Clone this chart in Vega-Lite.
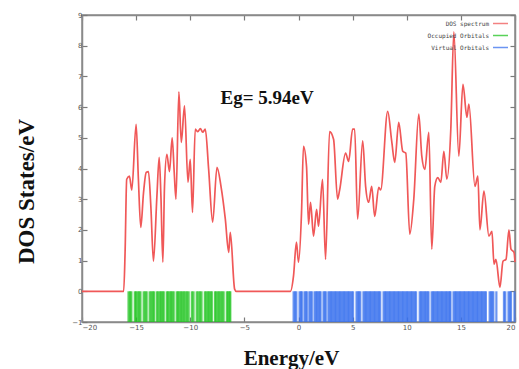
{
  "$schema": "https://vega.github.io/schema/vega-lite/v6.json",
  "width": 433,
  "height": 307,
  "autosize": {"type": "none"},
  "padding": {"left": 82, "top": 15, "right": 4, "bottom": 47},
  "background": "white",
  "config": {
    "view": {"stroke": "#8a8a8a", "strokeWidth": 1.5},
    "axis": {"grid": false, "domainColor": "#8a8a8a", "domainWidth": 1.5, "tickColor": "#7a7a7a", "tickWidth": 1.2, "tickSize": -5, "labelFontSize": 7, "labelColor": "#555", "labelFont": "DejaVu Sans"}
  },
  "datasets": {
    "dos": [
      {"series": "DOS spectrum", "E": -20, "dos": 0},
      {"series": "DOS spectrum", "E": -16.15, "dos": 0},
      {"series": "DOS spectrum", "E": -16.02, "dos": 1.27},
      {"series": "DOS spectrum", "E": -15.87, "dos": 3.65},
      {"series": "DOS spectrum", "E": -15.62, "dos": 3.75},
      {"series": "DOS spectrum", "E": -15.4, "dos": 3.3},
      {"series": "DOS spectrum", "E": -15.0, "dos": 5.44},
      {"series": "DOS spectrum", "E": -14.79, "dos": 3.65},
      {"series": "DOS spectrum", "E": -14.57, "dos": 2.08},
      {"series": "DOS spectrum", "E": -14.32, "dos": 3.2},
      {"series": "DOS spectrum", "E": -14.07, "dos": 3.87},
      {"series": "DOS spectrum", "E": -13.86, "dos": 3.9},
      {"series": "DOS spectrum", "E": -13.64, "dos": 2.77},
      {"series": "DOS spectrum", "E": -13.4, "dos": 0.98},
      {"series": "DOS spectrum", "E": -13.08, "dos": 3.1},
      {"series": "DOS spectrum", "E": -12.87, "dos": 4.36},
      {"series": "DOS spectrum", "E": -12.71, "dos": 3.1},
      {"series": "DOS spectrum", "E": -12.53, "dos": 0.95},
      {"series": "DOS spectrum", "E": -12.38, "dos": 3.4},
      {"series": "DOS spectrum", "E": -12.16, "dos": 4.46},
      {"series": "DOS spectrum", "E": -11.92, "dos": 3.9},
      {"series": "DOS spectrum", "E": -11.67, "dos": 5.0},
      {"series": "DOS spectrum", "E": -11.48, "dos": 3.87},
      {"series": "DOS spectrum", "E": -11.32, "dos": 3.0},
      {"series": "DOS spectrum", "E": -11.05, "dos": 6.5},
      {"series": "DOS spectrum", "E": -10.83, "dos": 4.85},
      {"series": "DOS spectrum", "E": -10.53, "dos": 6.04},
      {"series": "DOS spectrum", "E": -10.21, "dos": 3.55},
      {"series": "DOS spectrum", "E": -10.0, "dos": 4.3},
      {"series": "DOS spectrum", "E": -9.79, "dos": 2.57},
      {"series": "DOS spectrum", "E": -9.54, "dos": 5.28},
      {"series": "DOS spectrum", "E": -9.3, "dos": 5.2},
      {"series": "DOS spectrum", "E": -9.07, "dos": 5.3},
      {"series": "DOS spectrum", "E": -8.85, "dos": 5.18},
      {"series": "DOS spectrum", "E": -8.61, "dos": 5.28},
      {"series": "DOS spectrum", "E": -8.3, "dos": 3.97},
      {"series": "DOS spectrum", "E": -7.93, "dos": 2.25},
      {"series": "DOS spectrum", "E": -7.53, "dos": 4.04},
      {"series": "DOS spectrum", "E": -7.16, "dos": 3.42},
      {"series": "DOS spectrum", "E": -6.76, "dos": 2.35},
      {"series": "DOS spectrum", "E": -6.45, "dos": 1.27},
      {"series": "DOS spectrum", "E": -6.3, "dos": 1.92},
      {"series": "DOS spectrum", "E": -5.9, "dos": 0.07},
      {"series": "DOS spectrum", "E": -5.75, "dos": 0},
      {"series": "DOS spectrum", "E": -0.74, "dos": 0},
      {"series": "DOS spectrum", "E": -0.46, "dos": 0.5},
      {"series": "DOS spectrum", "E": -0.19, "dos": 1.6},
      {"series": "DOS spectrum", "E": 0.0, "dos": 0.95},
      {"series": "DOS spectrum", "E": 0.28, "dos": 2.57},
      {"series": "DOS spectrum", "E": 0.46, "dos": 4.72},
      {"series": "DOS spectrum", "E": 0.74, "dos": 4.07},
      {"series": "DOS spectrum", "E": 0.93, "dos": 2.18},
      {"series": "DOS spectrum", "E": 1.11, "dos": 2.9},
      {"series": "DOS spectrum", "E": 1.39, "dos": 1.8},
      {"series": "DOS spectrum", "E": 1.67, "dos": 2.67},
      {"series": "DOS spectrum", "E": 1.85, "dos": 2.12},
      {"series": "DOS spectrum", "E": 2.22, "dos": 3.65},
      {"series": "DOS spectrum", "E": 2.5, "dos": 1.04},
      {"series": "DOS spectrum", "E": 2.87, "dos": 5.2},
      {"series": "DOS spectrum", "E": 3.24, "dos": 4.95},
      {"series": "DOS spectrum", "E": 3.61, "dos": 3.0},
      {"series": "DOS spectrum", "E": 3.8, "dos": 3.3},
      {"series": "DOS spectrum", "E": 4.35, "dos": 4.5},
      {"series": "DOS spectrum", "E": 4.63, "dos": 4.23},
      {"series": "DOS spectrum", "E": 5.0, "dos": 5.28},
      {"series": "DOS spectrum", "E": 5.19, "dos": 5.28},
      {"series": "DOS spectrum", "E": 5.46, "dos": 2.35},
      {"series": "DOS spectrum", "E": 5.93, "dos": 4.9},
      {"series": "DOS spectrum", "E": 6.2, "dos": 3.42},
      {"series": "DOS spectrum", "E": 6.48, "dos": 2.9},
      {"series": "DOS spectrum", "E": 6.76, "dos": 3.42},
      {"series": "DOS spectrum", "E": 7.04, "dos": 2.44},
      {"series": "DOS spectrum", "E": 7.41, "dos": 3.39},
      {"series": "DOS spectrum", "E": 7.59, "dos": 3.3},
      {"series": "DOS spectrum", "E": 8.24, "dos": 5.86},
      {"series": "DOS spectrum", "E": 8.61, "dos": 4.89},
      {"series": "DOS spectrum", "E": 8.89, "dos": 4.2},
      {"series": "DOS spectrum", "E": 9.26, "dos": 5.5},
      {"series": "DOS spectrum", "E": 9.63, "dos": 4.56},
      {"series": "DOS spectrum", "E": 9.91, "dos": 4.5},
      {"series": "DOS spectrum", "E": 10.28, "dos": 1.86},
      {"series": "DOS spectrum", "E": 10.65, "dos": 3.0},
      {"series": "DOS spectrum", "E": 11.11, "dos": 5.77},
      {"series": "DOS spectrum", "E": 11.39, "dos": 4.4},
      {"series": "DOS spectrum", "E": 11.67, "dos": 3.97},
      {"series": "DOS spectrum", "E": 12.04, "dos": 5.18},
      {"series": "DOS spectrum", "E": 12.31, "dos": 1.37},
      {"series": "DOS spectrum", "E": 12.59, "dos": 3.42},
      {"series": "DOS spectrum", "E": 12.87, "dos": 3.7},
      {"series": "DOS spectrum", "E": 13.15, "dos": 3.55},
      {"series": "DOS spectrum", "E": 13.43, "dos": 4.56},
      {"series": "DOS spectrum", "E": 13.7, "dos": 3.65},
      {"series": "DOS spectrum", "E": 14.07, "dos": 5.28},
      {"series": "DOS spectrum", "E": 14.35, "dos": 8.45},
      {"series": "DOS spectrum", "E": 14.81, "dos": 4.4},
      {"series": "DOS spectrum", "E": 15.19, "dos": 6.74},
      {"series": "DOS spectrum", "E": 15.56, "dos": 5.67},
      {"series": "DOS spectrum", "E": 15.74, "dos": 6.1},
      {"series": "DOS spectrum", "E": 16.3, "dos": 3.42},
      {"series": "DOS spectrum", "E": 16.57, "dos": 3.75},
      {"series": "DOS spectrum", "E": 16.76, "dos": 2.0},
      {"series": "DOS spectrum", "E": 17.13, "dos": 3.26},
      {"series": "DOS spectrum", "E": 17.59, "dos": 1.8},
      {"series": "DOS spectrum", "E": 17.87, "dos": 1.95},
      {"series": "DOS spectrum", "E": 18.06, "dos": 0.88},
      {"series": "DOS spectrum", "E": 18.24, "dos": 1.04},
      {"series": "DOS spectrum", "E": 18.61, "dos": 0.13},
      {"series": "DOS spectrum", "E": 18.89, "dos": 0.98},
      {"series": "DOS spectrum", "E": 19.17, "dos": 1.04},
      {"series": "DOS spectrum", "E": 19.44, "dos": 2.0},
      {"series": "DOS spectrum", "E": 19.63, "dos": 1.37},
      {"series": "DOS spectrum", "E": 19.91, "dos": 1.27},
      {"series": "DOS spectrum", "E": 20.0, "dos": 0.95}
    ],
    "orb": [
      {"series": "Occupied Orbitals", "E": -15.7}, {"series": "Occupied Orbitals", "E": -15.56}, {"series": "Occupied Orbitals", "E": -15.44},
      {"series": "Occupied Orbitals", "E": -15.12}, {"series": "Occupied Orbitals", "E": -15.0}, {"series": "Occupied Orbitals", "E": -14.86}, {"series": "Occupied Orbitals", "E": -14.72}, {"series": "Occupied Orbitals", "E": -14.6},
      {"series": "Occupied Orbitals", "E": -14.3}, {"series": "Occupied Orbitals", "E": -14.15}, {"series": "Occupied Orbitals", "E": -14.03},
      {"series": "Occupied Orbitals", "E": -13.75}, {"series": "Occupied Orbitals", "E": -13.6}, {"series": "Occupied Orbitals", "E": -13.47}, {"series": "Occupied Orbitals", "E": -13.36},
      {"series": "Occupied Orbitals", "E": -13.1}, {"series": "Occupied Orbitals", "E": -12.96}, {"series": "Occupied Orbitals", "E": -12.81}, {"series": "Occupied Orbitals", "E": -12.68}, {"series": "Occupied Orbitals", "E": -12.56}, {"series": "Occupied Orbitals", "E": -12.45},
      {"series": "Occupied Orbitals", "E": -12.17}, {"series": "Occupied Orbitals", "E": -12.05}, {"series": "Occupied Orbitals", "E": -11.91}, {"series": "Occupied Orbitals", "E": -11.78}, {"series": "Occupied Orbitals", "E": -11.65}, {"series": "Occupied Orbitals", "E": -11.53},
      {"series": "Occupied Orbitals", "E": -11.25}, {"series": "Occupied Orbitals", "E": -11.12}, {"series": "Occupied Orbitals", "E": -11.0}, {"series": "Occupied Orbitals", "E": -10.86}, {"series": "Occupied Orbitals", "E": -10.72}, {"series": "Occupied Orbitals", "E": -10.6}, {"series": "Occupied Orbitals", "E": -10.45}, {"series": "Occupied Orbitals", "E": -10.3}, {"series": "Occupied Orbitals", "E": -10.15},
      {"series": "Occupied Orbitals", "E": -9.85}, {"series": "Occupied Orbitals", "E": -9.7},
      {"series": "Occupied Orbitals", "E": -9.4}, {"series": "Occupied Orbitals", "E": -9.25}, {"series": "Occupied Orbitals", "E": -9.1}, {"series": "Occupied Orbitals", "E": -8.96},
      {"series": "Occupied Orbitals", "E": -8.65}, {"series": "Occupied Orbitals", "E": -8.51}, {"series": "Occupied Orbitals", "E": -8.38}, {"series": "Occupied Orbitals", "E": -8.25}, {"series": "Occupied Orbitals", "E": -8.12}, {"series": "Occupied Orbitals", "E": -8.01},
      {"series": "Occupied Orbitals", "E": -7.72}, {"series": "Occupied Orbitals", "E": -7.6}, {"series": "Occupied Orbitals", "E": -7.46}, {"series": "Occupied Orbitals", "E": -7.32}, {"series": "Occupied Orbitals", "E": -7.2}, {"series": "Occupied Orbitals", "E": -7.05}, {"series": "Occupied Orbitals", "E": -6.92},
      {"series": "Occupied Orbitals", "E": -6.62}, {"series": "Occupied Orbitals", "E": -6.5}, {"series": "Occupied Orbitals", "E": -6.38}, {"series": "Occupied Orbitals", "E": -6.3},
      {"series": "Virtual Orbitals", "E": -0.45}, {"series": "Virtual Orbitals", "E": -0.32}, {"series": "Virtual Orbitals", "E": -0.2},
      {"series": "Virtual Orbitals", "E": 0.1}, {"series": "Virtual Orbitals", "E": 0.22}, {"series": "Virtual Orbitals", "E": 0.31},
      {"series": "Virtual Orbitals", "E": 0.55}, {"series": "Virtual Orbitals", "E": 0.67}, {"series": "Virtual Orbitals", "E": 0.77},
      {"series": "Virtual Orbitals", "E": 1.0}, {"series": "Virtual Orbitals", "E": 1.12}, {"series": "Virtual Orbitals", "E": 1.23},
      {"series": "Virtual Orbitals", "E": 1.48}, {"series": "Virtual Orbitals", "E": 1.6}, {"series": "Virtual Orbitals", "E": 1.72}, {"series": "Virtual Orbitals", "E": 1.84}, {"series": "Virtual Orbitals", "E": 1.95}, {"series": "Virtual Orbitals", "E": 2.04},
      {"series": "Virtual Orbitals", "E": 2.31}, {"series": "Virtual Orbitals", "E": 2.42}, {"series": "Virtual Orbitals", "E": 2.52},
      {"series": "Virtual Orbitals", "E": 2.76}, {"series": "Virtual Orbitals", "E": 2.88}, {"series": "Virtual Orbitals", "E": 3.0}, {"series": "Virtual Orbitals", "E": 3.12}, {"series": "Virtual Orbitals", "E": 3.24}, {"series": "Virtual Orbitals", "E": 3.36}, {"series": "Virtual Orbitals", "E": 3.48}, {"series": "Virtual Orbitals", "E": 3.6}, {"series": "Virtual Orbitals", "E": 3.72}, {"series": "Virtual Orbitals", "E": 3.84}, {"series": "Virtual Orbitals", "E": 3.96}, {"series": "Virtual Orbitals", "E": 4.08}, {"series": "Virtual Orbitals", "E": 4.2}, {"series": "Virtual Orbitals", "E": 4.32}, {"series": "Virtual Orbitals", "E": 4.44}, {"series": "Virtual Orbitals", "E": 4.56}, {"series": "Virtual Orbitals", "E": 4.68}, {"series": "Virtual Orbitals", "E": 4.8}, {"series": "Virtual Orbitals", "E": 4.92}, {"series": "Virtual Orbitals", "E": 5.04},
      {"series": "Virtual Orbitals", "E": 5.36}, {"series": "Virtual Orbitals", "E": 5.48}, {"series": "Virtual Orbitals", "E": 5.6}, {"series": "Virtual Orbitals", "E": 5.71},
      {"series": "Virtual Orbitals", "E": 6.0}, {"series": "Virtual Orbitals", "E": 6.12}, {"series": "Virtual Orbitals", "E": 6.24}, {"series": "Virtual Orbitals", "E": 6.36}, {"series": "Virtual Orbitals", "E": 6.48}, {"series": "Virtual Orbitals", "E": 6.6}, {"series": "Virtual Orbitals", "E": 6.72}, {"series": "Virtual Orbitals", "E": 6.84}, {"series": "Virtual Orbitals", "E": 6.96}, {"series": "Virtual Orbitals", "E": 7.08}, {"series": "Virtual Orbitals", "E": 7.2}, {"series": "Virtual Orbitals", "E": 7.32}, {"series": "Virtual Orbitals", "E": 7.44}, {"series": "Virtual Orbitals", "E": 7.55},
      {"series": "Virtual Orbitals", "E": 7.86}, {"series": "Virtual Orbitals", "E": 7.98}, {"series": "Virtual Orbitals", "E": 8.1}, {"series": "Virtual Orbitals", "E": 8.22}, {"series": "Virtual Orbitals", "E": 8.34}, {"series": "Virtual Orbitals", "E": 8.46}, {"series": "Virtual Orbitals", "E": 8.58}, {"series": "Virtual Orbitals", "E": 8.7}, {"series": "Virtual Orbitals", "E": 8.82}, {"series": "Virtual Orbitals", "E": 8.94}, {"series": "Virtual Orbitals", "E": 9.06}, {"series": "Virtual Orbitals", "E": 9.18}, {"series": "Virtual Orbitals", "E": 9.3}, {"series": "Virtual Orbitals", "E": 9.42}, {"series": "Virtual Orbitals", "E": 9.54}, {"series": "Virtual Orbitals", "E": 9.66}, {"series": "Virtual Orbitals", "E": 9.78}, {"series": "Virtual Orbitals", "E": 9.9}, {"series": "Virtual Orbitals", "E": 10.02}, {"series": "Virtual Orbitals", "E": 10.14}, {"series": "Virtual Orbitals", "E": 10.26}, {"series": "Virtual Orbitals", "E": 10.38}, {"series": "Virtual Orbitals", "E": 10.5}, {"series": "Virtual Orbitals", "E": 10.62}, {"series": "Virtual Orbitals", "E": 10.74}, {"series": "Virtual Orbitals", "E": 10.86},
      {"series": "Virtual Orbitals", "E": 11.2}, {"series": "Virtual Orbitals", "E": 11.32}, {"series": "Virtual Orbitals", "E": 11.44}, {"series": "Virtual Orbitals", "E": 11.56}, {"series": "Virtual Orbitals", "E": 11.68}, {"series": "Virtual Orbitals", "E": 11.8}, {"series": "Virtual Orbitals", "E": 11.92}, {"series": "Virtual Orbitals", "E": 12.01},
      {"series": "Virtual Orbitals", "E": 12.3}, {"series": "Virtual Orbitals", "E": 12.42}, {"series": "Virtual Orbitals", "E": 12.54}, {"series": "Virtual Orbitals", "E": 12.66}, {"series": "Virtual Orbitals", "E": 12.78}, {"series": "Virtual Orbitals", "E": 12.9}, {"series": "Virtual Orbitals", "E": 13.02}, {"series": "Virtual Orbitals", "E": 13.14}, {"series": "Virtual Orbitals", "E": 13.26}, {"series": "Virtual Orbitals", "E": 13.38}, {"series": "Virtual Orbitals", "E": 13.5}, {"series": "Virtual Orbitals", "E": 13.62}, {"series": "Virtual Orbitals", "E": 13.74}, {"series": "Virtual Orbitals", "E": 13.86}, {"series": "Virtual Orbitals", "E": 13.97}, {"series": "Virtual Orbitals", "E": 14.04},
      {"series": "Virtual Orbitals", "E": 14.32}, {"series": "Virtual Orbitals", "E": 14.44}, {"series": "Virtual Orbitals", "E": 14.56}, {"series": "Virtual Orbitals", "E": 14.68}, {"series": "Virtual Orbitals", "E": 14.8}, {"series": "Virtual Orbitals", "E": 14.92}, {"series": "Virtual Orbitals", "E": 15.04}, {"series": "Virtual Orbitals", "E": 15.16}, {"series": "Virtual Orbitals", "E": 15.28}, {"series": "Virtual Orbitals", "E": 15.4}, {"series": "Virtual Orbitals", "E": 15.52}, {"series": "Virtual Orbitals", "E": 15.64}, {"series": "Virtual Orbitals", "E": 15.76}, {"series": "Virtual Orbitals", "E": 15.88}, {"series": "Virtual Orbitals", "E": 16.0}, {"series": "Virtual Orbitals", "E": 16.12}, {"series": "Virtual Orbitals", "E": 16.24}, {"series": "Virtual Orbitals", "E": 16.36}, {"series": "Virtual Orbitals", "E": 16.48}, {"series": "Virtual Orbitals", "E": 16.6}, {"series": "Virtual Orbitals", "E": 16.72}, {"series": "Virtual Orbitals", "E": 16.84}, {"series": "Virtual Orbitals", "E": 16.96}, {"series": "Virtual Orbitals", "E": 17.08}, {"series": "Virtual Orbitals", "E": 17.2}, {"series": "Virtual Orbitals", "E": 17.31},
      {"series": "Virtual Orbitals", "E": 17.66}, {"series": "Virtual Orbitals", "E": 17.78}, {"series": "Virtual Orbitals", "E": 17.9}, {"series": "Virtual Orbitals", "E": 18.0},
      {"series": "Virtual Orbitals", "E": 18.28},
      {"series": "Virtual Orbitals", "E": 18.98}, {"series": "Virtual Orbitals", "E": 19.1},
      {"series": "Virtual Orbitals", "E": 19.4}, {"series": "Virtual Orbitals", "E": 19.52}, {"series": "Virtual Orbitals", "E": 19.63},
      {"series": "Virtual Orbitals", "E": 19.95}
    ]
  },
  "layer": [
    {
      "data": {"name": "orb"},
      "mark": {"type": "rule", "strokeWidth": 2.2, "opacity": 0.75},
      "encoding": {
        "x": {"field": "E", "type": "quantitative",
          "scale": {"domain": [-20, 20], "nice": false, "zero": false},
          "axis": {"orient": "bottom", "values": [-20, -15, -10, -5, 0, 5, 10, 15, 20], "labelPadding": 6,
            "title": "Energy/eV", "titleFont": "Liberation Serif", "titleFontSize": 21, "titleFontWeight": "bold", "titleColor": "#111",
            "titleX": 209, "titleY": 42, "titleAlign": "center", "titleBaseline": "alphabetic"}},
        "y": {"datum": -1, "type": "quantitative",
          "scale": {"domain": [-1, 9], "nice": false, "zero": false},
          "axis": {"orient": "left", "values": [-1, 0, 1, 2, 3, 4, 5, 6, 7, 8, 9], "labelPadding": 5,
            "title": "DOS States/eV", "titleFont": "Liberation Serif", "titleFontSize": 23, "titleFontWeight": "bold", "titleColor": "#111",
            "titleX": -49, "titleY": 176, "titleAngle": -90, "titleAlign": "center", "titleBaseline": "alphabetic"}},
        "y2": {"datum": 0},
        "color": {"field": "series", "type": "nominal",
          "scale": {"domain": ["DOS spectrum", "Occupied Orbitals", "Virtual Orbitals"], "range": ["#f05858", "#22c422", "#3a72ee"]},
          "legend": {"orient": "none", "legendX": 410, "legendY": 0, "title": null, "symbolType": "stroke", "symbolSize": 225, "symbolStrokeWidth": 1.5,
            "labelFontSize": 6, "labelColor": "#444", "labelFont": "DejaVu Sans Mono", "rowPadding": 0, "labelAlign": "right", "labelOffset": -20}}
      }
    },
    {
      "data": {"name": "dos"},
      "mark": {"type": "line", "strokeWidth": 1.7, "interpolate": "monotone"},
      "encoding": {
        "x": {"field": "E", "type": "quantitative", "axis": null},
        "y": {"field": "dos", "type": "quantitative", "axis": null},
        "color": {"field": "series", "type": "nominal"}
      }
    },
    {
      "data": {"values": [{"label": "Eg= 5.94eV"}]},
      "mark": {"type": "text", "font": "Liberation Serif", "fontSize": 19, "fontWeight": "bold", "align": "left", "baseline": "alphabetic", "color": "#111"},
      "encoding": {
        "x": {"datum": -7.2, "type": "quantitative", "axis": null},
        "y": {"datum": 6.1, "type": "quantitative", "axis": null},
        "text": {"field": "label"}
      }
    },
    {
      "data": {"name": "dos"},
      "mark": {"type": "point", "opacity": 0},
      "encoding": {
        "x": {"field": "E", "type": "quantitative", "axis": {"orient": "top", "labels": false, "title": null, "values": [-20, -15, -10, -5, 0, 5, 10, 15, 20]}},
        "y": {"field": "dos", "type": "quantitative", "axis": {"orient": "right", "labels": false, "title": null, "values": [-1, 0, 1, 2, 3, 4, 5, 6, 7, 8, 9]}}
      }
    }
  ],
  "resolve": {"axis": {"x": "independent", "y": "independent"}}
}
